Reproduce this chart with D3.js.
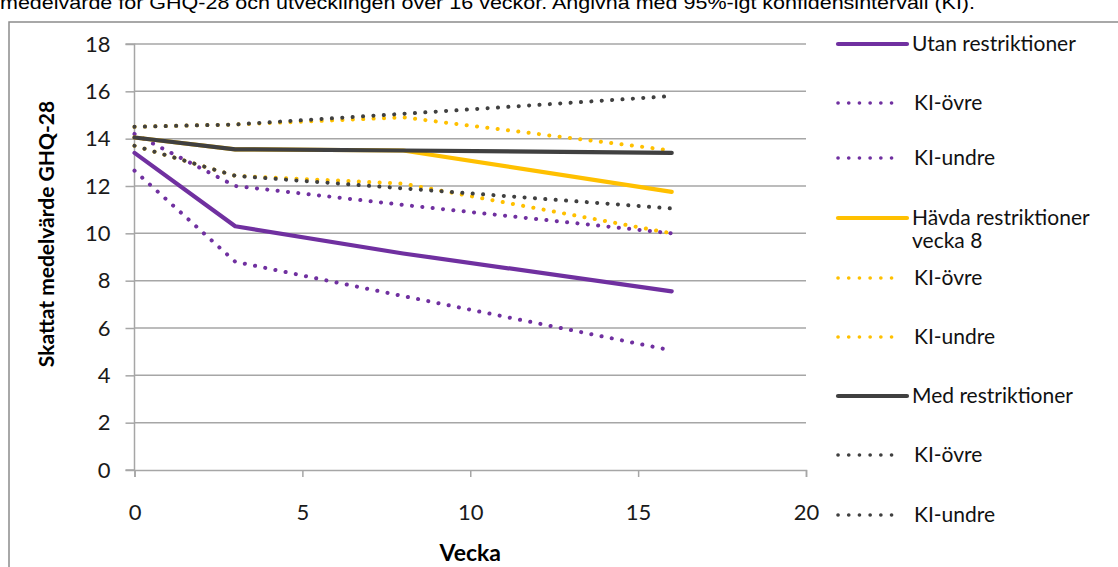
<!DOCTYPE html>
<html><head><meta charset="utf-8">
<script src="https://cdn.jsdelivr.net/npm/d3@7"></script>
<style>body{margin:0;background:#fff}svg{display:block}</style>
</head><body>
<svg id="c" width="1118" height="567"></svg>
<script>
const weeks = [0, 3, 8, 16];
const utan = [13.4, 10.3, 9.15, 7.55];
const utanHi = [14.2, 12.0, 11.2, 10.0];
const utanLo = [12.65, 8.8, 7.35, 5.05];
const havda = [14.05, 13.55, 13.5, 11.75];
const havdaHi = [14.5, 14.6, 14.9, 13.5];
const havdaLo = [13.7, 12.43, 12.1, 10.0];
const med = [14.05, 13.55, 13.5, 13.4];
const medHi = [14.5, 14.6, 15.05, 15.8];
const medLo = [13.7, 12.43, 11.9, 11.05];
const yTicks = [0, 2, 4, 6, 8, 10, 12, 14, 16, 18];
const xTicks = [0, 5, 10, 15, 20];
const legendLabels = ["Utan restriktioner", "KI-övre", "KI-undre", "Hävda restriktioner|vecka 8", "KI-övre", "KI-undre", "Med restriktioner", "KI-övre", "KI-undre"];

const PURPLE = "#7030A0", YELLOW = "#FFC000", DARK = "#404040";
const series = [
  {v: utan, c: PURPLE, dot: false},
  {v: utanHi, c: PURPLE, dot: true},
  {v: utanLo, c: PURPLE, dot: true},
  {v: havda, c: YELLOW, dot: false},
  {v: havdaHi, c: YELLOW, dot: true},
  {v: havdaLo, c: YELLOW, dot: true},
  {v: med, c: DARK, dot: false},
  {v: medHi, c: DARK, dot: true},
  {v: medLo, c: DARK, dot: true}
];

const svg = d3.select("#c");
const font = "Lato, 'Open Sans', sans-serif";

// title (cropped at top, as in the source)
svg.append("text").attr("x", 0).attr("y", 9).attr("font-family", "'Liberation Sans', Arial, sans-serif")
  .attr("font-size", 19).attr("fill", "#000").attr("textLength", 975).attr("lengthAdjust", "spacingAndGlyphs")
  .text("medelvärde för GHQ-28 och utvecklingen över 16 veckor. Angivna med 95%-igt konfidensintervall (KI).");

// frame
svg.append("rect").attr("x", 9).attr("y", 22).attr("width", 1130).attr("height", 600)
  .attr("fill", "none").attr("stroke", "#8c8c8c").attr("stroke-width", 1.5);

const x = d3.scaleLinear().domain([0, 20]).range([134.5, 806]);
const y = d3.scaleLinear().domain([0, 18]).range([470, 44]);

// gridlines
svg.append("g").selectAll("line").data(yTicks.filter(t => t > 0)).join("line")
  .attr("x1", x(0)).attr("x2", x(20)).attr("y1", d => y(d)).attr("y2", d => y(d))
  .attr("stroke", "#a6a6a6").attr("stroke-width", 1.5);

// axes
const yAxis = d3.axisLeft(y).tickValues(yTicks).tickSize(9).tickPadding(15);
const gy = svg.append("g").attr("transform", `translate(${x(0)},0)`).call(yAxis);
const xAxis = d3.axisBottom(x).tickValues(xTicks).tickSize(7).tickPadding(27);
const gx = svg.append("g").attr("transform", `translate(0,${y(0)})`).call(xAxis);
[gy, gx].forEach(g => {
  g.select(".domain").attr("stroke", "#a6a6a6").attr("stroke-width", 1.5);
  g.selectAll(".tick line").attr("stroke", "#a6a6a6").attr("stroke-width", 1.5);
  g.selectAll(".tick text").attr("font-family", font).attr("font-size", 22).attr("fill", "#1a1a1a");
});
gy.select(".domain").attr("d", `M-9,${y(18)}H0V${y(0)}H-9`);

// axis titles
svg.append("text").attr("x", x(10)).attr("y", 561).attr("text-anchor", "middle")
  .attr("font-family", font).attr("font-weight", "bold").attr("font-size", 23).text("Vecka");
svg.append("text").attr("transform", "translate(54,234) rotate(-90)").attr("text-anchor", "middle")
  .attr("font-family", font).attr("font-weight", "bold").attr("font-size", 21).text("Skattat medelvärde GHQ-28");

// lines
const line = d3.line().x((d, i) => x(weeks[i])).y(d => y(d));
const g = svg.append("g");
series.forEach(s => {
  const p = g.append("path").datum(s.v).attr("d", line).attr("fill", "none").attr("stroke", s.c)
    .attr("stroke-linejoin", "round");
  if (s.dot) p.attr("stroke-width", 4).attr("stroke-dasharray", "0.1 10.3").attr("stroke-linecap", "round");
  else p.attr("stroke-width", 4.2).attr("stroke-linecap", "round");
});

// legend
const legY = [44, 103, 158, 218, 278, 337, 396, 455, 515];
const lg = svg.append("g");
series.forEach((s, i) => {
  const yy = legY[i];
  const l = lg.append("line").attr("x1", 838).attr("x2", s.dot ? 902 : 907).attr("y1", yy).attr("y2", yy).attr("stroke", s.c);
  if (s.dot) l.attr("stroke-width", 3.6).attr("stroke-dasharray", "0.1 10.6").attr("stroke-linecap", "round");
  else l.attr("stroke-width", 4.2).attr("stroke-linecap", "round");
  const parts = legendLabels[i].split("|");
  const tx = s.dot ? 914 : 912;
  const t = lg.append("text").attr("x", tx).attr("y", yy + 7)
    .attr("font-family", font).attr("font-size", 21).attr("fill", "#111");
  parts.forEach((p, k) => t.append("tspan").attr("x", tx).attr("dy", k === 0 ? 0 : 23).text(p));
});
</script>
</body></html>
